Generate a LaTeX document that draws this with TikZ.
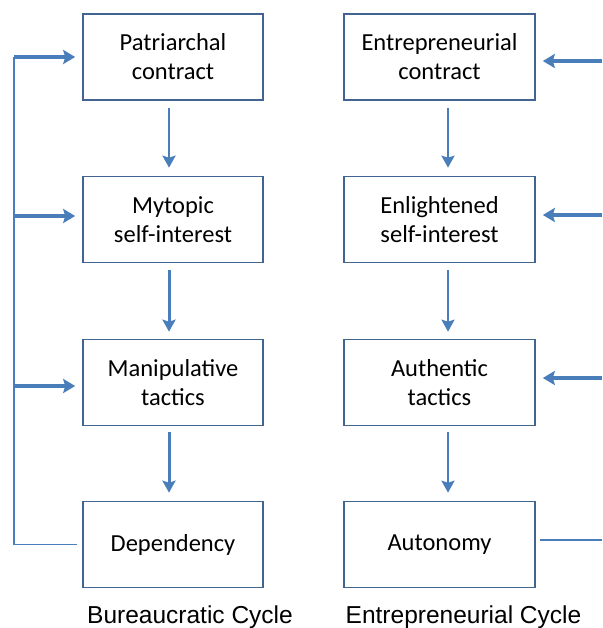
\documentclass[tikz,border=0pt]{standalone}
\usepackage{fontspec}
\setmainfont{Carlito}
\newfontfamily\cyclefont{Liberation Sans}
\usetikzlibrary{arrows.meta}
\definecolor{boxline}{RGB}{65,100,145}
\definecolor{arrowblue}{RGB}{74,126,187}

\begin{document}
\begin{tikzpicture}[x=1pt,y=-1pt,
    box/.style={draw=boxline,line width=1.6pt,minimum height=86pt,inner sep=0pt,align=center,font=\fontsize{24.5}{29}\selectfont},
    flow/.style={arrowblue,line width=2.6pt,-{Stealth[length=12pt,width=13pt,inset=2pt]}},
    back/.style={arrowblue,line width=3.4pt,-{Stealth[length=12pt,width=14pt,inset=2pt]},shorten >=7pt},
    feed/.style={arrowblue,line width=1.5pt}]
    \useasboundingbox (0,0) rectangle (602,628);
    % boxes
    \node[box,minimum width=180pt] (pc) at (173,57) {Patriarchal\\contract};
    \node[box,minimum width=180pt] (ms) at (173,219.5) {Mytopic\\self-interest};
    \node[box,minimum width=180pt] (mt) at (173,382.5) {Manipulative\\tactics};
    \node[box,minimum width=180pt] (dp) at (173,544.5) {Dependency};
    \node[box,minimum width=191pt] (ec) at (439.5,57) {Entrepreneurial\\contract};
    \node[box,minimum width=191pt] (es) at (439.5,219.5) {Enlightened\\self-interest};
    \node[box,minimum width=191pt] (at) at (439.5,382.5) {Authentic\\tactics};
    \node[box,minimum width=191pt] (au) at (439.5,544.5) {Autonomy};
    % cycle names
    \node[anchor=base,font=\cyclefont\fontsize{24.5}{29}\selectfont] (bc) at (190,623) {Bureaucratic Cycle};
    \node[anchor=base,font=\cyclefont\fontsize{24.5}{29}\selectfont] (en) at (463.5,623) {Entrepreneurial Cycle};
    % arrows down
    \draw[flow,shorten <=7pt,shorten >=8pt] ([xshift=-4pt]pc.south) -- ([xshift=-4pt]ms.north);
    \draw[flow,line width=3pt,shorten <=7pt,shorten >=7pt] ([xshift=-4pt]ms.south) -- ([xshift=-4pt]mt.north);
    \draw[flow,line width=3pt,shorten <=6pt,shorten >=8pt] ([xshift=-4pt]mt.south) -- ([xshift=-4pt]dp.north);
    \draw[flow,line width=2.2pt,shorten <=7pt,shorten >=8pt] ([xshift=8.5pt]ec.south) -- ([xshift=8.5pt]es.north);
    \draw[flow,line width=2.2pt,shorten <=7pt,shorten >=7pt] ([xshift=8.5pt]es.south) -- ([xshift=8.5pt]at.north);
    \draw[flow,line width=2.2pt,shorten <=6pt,shorten >=8pt] ([xshift=8.5pt]at.south) -- ([xshift=8.5pt]au.north);
    % feedback on the left
    \coordinate (l1) at (14,57);
    \coordinate (l2) at (14,216);
    \coordinate (l3) at (14,386);
    \draw[feed] ([xshift=-5pt]dp.west) -| (l1);
    \draw[back] (l1) -- (pc.west);
    \draw[back] (l2) -- (l2 -| ms.west);
    \draw[back] (l3) -- (l3 -| mt.west);
    % feedback on the right
    \coordinate (r1) at (602,61);
    \coordinate (r2) at (602,215);
    \coordinate (r3) at (602,378);
    \coordinate (r4) at (602,540);
    \draw[feed] ([xshift=4pt]au.east |- r4) -- (r4);
    \draw[back] (r1) -- (r1 -| ec.east);
    \draw[back] (r2) -- (r2 -| es.east);
    \draw[back] (r3) -- (r3 -| at.east);
\end{tikzpicture}
\end{document}
